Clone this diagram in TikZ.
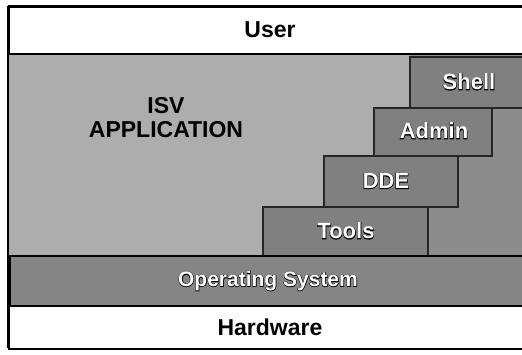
\documentclass[tikz,border=0pt]{standalone}
\usepackage{fontspec}
\setmainfont{Liberation Sans}
% heavily stroked bold face used as the dark rim under the white labels
\newfontfamily\rimfam{Liberation Sans}[BoldFeatures={FakeBold=5}]
\definecolor{isvgray}{gray}{0.68}
\definecolor{stepgray}{gray}{0.50}
\definecolor{backgray}{gray}{0.55}
\definecolor{osgray}{gray}{0.52}
\tikzset{
  band/.style={draw=black, line width=1.6pt, inner sep=0pt, anchor=north west},
  stepbox/.style={draw=black!85, line width=1.6pt, fill=stepgray, inner sep=0pt,
                  anchor=north west},
  plain/.style={font=\fontsize{23}{25}\selectfont\bfseries, text=black},
  rim/.style={font=\fontsize{22}{24}\selectfont\rimfam\bfseries, text=black},
  steplabel/.style={font=\fontsize{22}{24}\selectfont\bfseries, text=white},
}
\begin{document}
\begin{tikzpicture}[x=1pt,y=-1pt]
\useasboundingbox (0,0) rectangle (522,354);
\fill[white] (0,0) rectangle (522,354);

% top and bottom white bands
\node[band, fill=white, minimum width=516pt, minimum height=47pt] (user) at (8,6) {};
\node[plain] (usertext) at (270,30) {User};
\node[band, fill=white, minimum width=516pt, minimum height=43pt] (hw) at (8,305) {};
\node[plain] (hwtext) at (270,327) {Hardware};

% background behind the steps
\fill[backgray] (262,55) rectangle (522,255);

% ISV application staircase region
\fill[isvgray] (8,55) -- (409,55) -- (409,107) -- (373,107) -- (373,155)
  -- (323,155) -- (323,206) -- (262,206) -- (262,255) -- (8,255) -- cycle;
\node[plain, align=center, font=\fontsize{23}{24}\selectfont\bfseries] (isv) at (166,118) {ISV\\APPLICATION};

% stacked steps
\node[stepbox, minimum width=114pt, minimum height=51pt] (shell) at (409,56) {};
\node[stepbox, minimum width=118pt, minimum height=48pt] (admin) at (373,107) {};
\node[stepbox, minimum width=134pt, minimum height=51pt] (dde) at (323,155) {};
\node[stepbox, minimum width=165pt, minimum height=49pt] (tools) at (262,206) {};

% operating system band
\node[band, fill=osgray, line width=2.2pt, minimum width=514pt, minimum height=50pt] (os) at (9,255) {};

% outlined labels: dark rim first, white letters on top
\node[rim] (shellrim) at (469,82) {Shell};
\node[steplabel] (shelltext) at (shellrim) {Shell};
\node[rim] (adminrim) at (434,131) {Admin};
\node[steplabel] (admintext) at (adminrim) {Admin};
\node[rim] (dderim) at (386,181) {DDE};
\node[steplabel] (ddetext) at (dderim) {DDE};
\node[rim] (toolsrim) at (346,231) {Tools};
\node[steplabel] (toolstext) at (toolsrim) {Tools};
\node[rim, font=\fontsize{21}{23}\selectfont\rimfam\bfseries] (osrim) at (268,281) {Operating System};
\node[steplabel, font=\fontsize{21}{23}\selectfont\bfseries] (ostext) at (osrim) {Operating System};

% frame lines
\draw[line width=2pt] (8,6) -- (8,348);
\draw[line width=1.6pt] (8,6) -- (522,6);
\draw[line width=2.2pt] (8,54) -- (522,54);
\end{tikzpicture}
\end{document}
